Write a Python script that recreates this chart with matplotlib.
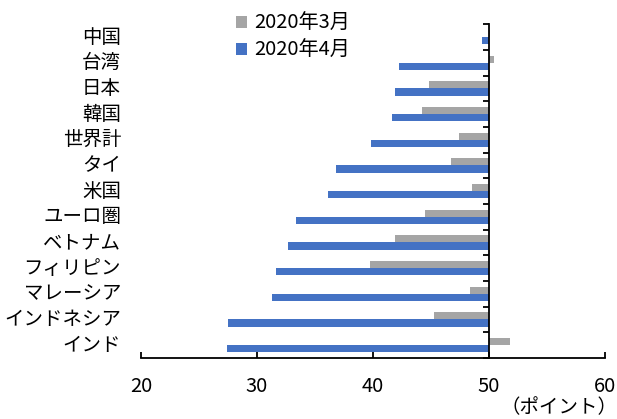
import matplotlib
matplotlib.use("Agg")
import matplotlib.pyplot as plt
import matplotlib.transforms as mtransforms
import numpy as np

plt.rcParams['font.family'] = ['Noto Sans CJK JP', 'DejaVu Sans']

categories = ["中国", "台湾", "日本", "韓国", "世界計", "タイ", "米国", "ユーロ圏",
              "ベトナム", "フィリピン", "マレーシア", "インドネシア", "インド"]
mar_2020 = [50.1, 50.4, 44.8, 44.2, 47.4, 46.7, 48.5, 44.5, 41.9, 39.7, 48.4, 45.3, 51.8]
apr_2020 = [49.4, 42.2, 41.9, 41.6, 39.8, 36.8, 36.1, 33.4, 32.7, 31.6, 31.3, 27.5, 27.4]
series_names = ["2020年3月", "2020年4月"]
xticks = [20, 30, 40, 50, 60]
baseline = 50
unit_label = "（ポイント）"

gray = "#A5A5A5"
blue = "#4472C4"
FS = 14.5

W, H = 617, 419
fig = plt.figure(figsize=(W / 100, H / 100), dpi=100)
ax = fig.add_axes([141 / W, 1 - 358 / H, 464 / W, (358 - 24) / H])

y = np.arange(len(categories))
off = 0.14
hgt = 0.28
mar = np.array(mar_2020)
apr = np.array(apr_2020)
ax.barh(y - off, mar - baseline, left=baseline, height=hgt, color=gray,
        label=series_names[0], edgecolor='none')
ax.barh(y + off, apr - baseline, left=baseline, height=hgt, color=blue,
        label=series_names[1], edgecolor='none')

ax.set_xlim(20, 60)
ax.set_ylim(12.36, -0.51)

# spines
for s in ['top', 'right']:
    ax.spines[s].set_visible(False)
ax.spines['left'].set_position(('data', baseline))
ax.spines['left'].set_linewidth(1.3)
ax.spines['bottom'].set_linewidth(1.3)

ax.set_yticks(np.arange(-0.5, len(categories), 1.0))
ax.set_yticklabels([])
ax.tick_params(axis='y', direction='out', length=4.5, width=1.3)

ax.set_xticks(xticks)
ax.set_xticklabels([str(t) for t in xticks], fontsize=FS)
ax.tick_params(axis='x', direction='in', length=4, width=1.3, pad=13)

trans = mtransforms.blended_transform_factory(ax.transAxes, ax.transData)
for i, c in enumerate(categories):
    ax.text(-0.043, i, c, transform=trans, ha='right', va='center', fontsize=14)

fig.text(1.0, 1 - 408 / H, unit_label, ha='right', va='center', fontsize=14)

leg = fig.legend(loc='upper left', bbox_to_anchor=(236 / W, 1 - 13 / H),
                 frameon=False, fontsize=FS, handlelength=0.55, handleheight=0.55,
                 handletextpad=0.35, labelspacing=0.3, borderpad=0, borderaxespad=0)

fig.savefig("out.png", dpi=100)
